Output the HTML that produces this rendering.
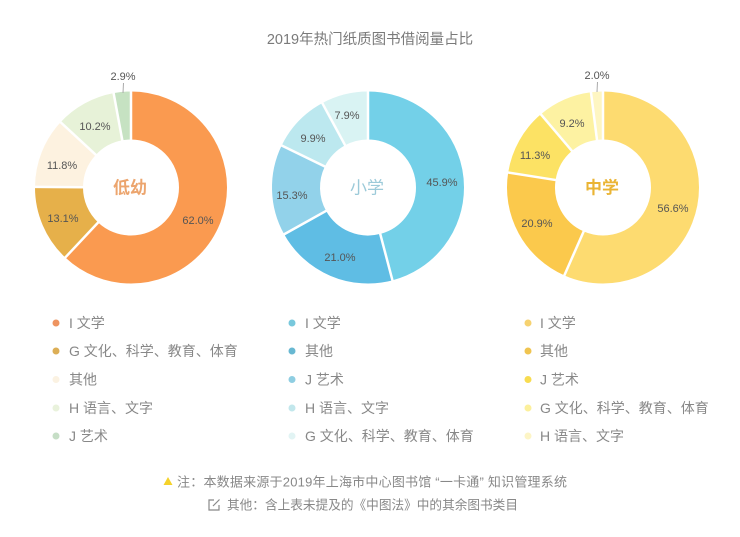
<!DOCTYPE html>
<html>
<head>
<meta charset="utf-8">
<style>
html,body{margin:0;padding:0;background:#fff;}
svg{display:block;}
text{font-family:"Liberation Sans","Noto Sans CJK SC",sans-serif;}
</style>
</head>
<body>
<svg width="740" height="537" viewBox="0 0 740 537" xmlns="http://www.w3.org/2000/svg">
<rect width="740" height="537" fill="#fff"/>
<text x="370" y="44" text-anchor="middle" font-size="14.5" fill="#7a7a7a">2019年热门纸质图书借阅量占比</text>

<!-- Left donut -->
<g transform="translate(131,187.5)">
  <g fill="none" stroke-width="48">
    <circle r="72" stroke="#fa9a50" stroke-dasharray="280.48 452.39" transform="rotate(-90)"/>
    <circle r="72" stroke="#e6b04a" stroke-dasharray="59.26 452.39" transform="rotate(133.2)"/>
    <circle r="72" stroke="#fdf2e0" stroke-dasharray="53.38 452.39" transform="rotate(180.36)"/>
    <circle r="72" stroke="#e7f2d8" stroke-dasharray="46.14 452.39" transform="rotate(222.84)"/>
    <circle r="72" stroke="#c6e2c2" stroke-dasharray="13.12 452.39" transform="rotate(259.56)"/>
  </g>
  <g stroke="#fff" stroke-width="2.5">
    <line x1="0" y1="-46" x2="0" y2="-98" transform="rotate(0)"/>
    <line x1="0" y1="-46" x2="0" y2="-98" transform="rotate(223.2)"/>
    <line x1="0" y1="-46" x2="0" y2="-98" transform="rotate(270.36)"/>
    <line x1="0" y1="-46" x2="0" y2="-98" transform="rotate(312.84)"/>
    <line x1="0" y1="-46" x2="0" y2="-98" transform="rotate(349.56)"/>
  </g>
  <text x="-1" y="6" text-anchor="middle" font-size="17" font-weight="bold" fill="#eca56e">低幼</text>
</g>
<g font-size="11" fill="#555" text-anchor="middle">
  <text x="198" y="224">62.0%</text>
  <text x="63" y="222">13.1%</text>
  <text x="62" y="169">11.8%</text>
  <text x="95" y="130">10.2%</text>
  <text x="123" y="80">2.9%</text>
</g>
<line x1="123.5" y1="83" x2="123" y2="93" stroke="#aaa" stroke-width="1"/>

<!-- Middle donut -->
<g transform="translate(368,187.5)">
  <g fill="none" stroke-width="48">
    <circle r="72" stroke="#73d0e8" stroke-dasharray="207.65 452.39" transform="rotate(-90)"/>
    <circle r="72" stroke="#5fbde4" stroke-dasharray="95.00 452.39" transform="rotate(75.24)"/>
    <circle r="72" stroke="#92d2ea" stroke-dasharray="69.22 452.39" transform="rotate(150.84)"/>
    <circle r="72" stroke="#bce8ef" stroke-dasharray="44.79 452.39" transform="rotate(205.92)"/>
    <circle r="72" stroke="#d9f3f3" stroke-dasharray="35.74 452.39" transform="rotate(241.56)"/>
  </g>
  <g stroke="#fff" stroke-width="2.5">
    <line x1="0" y1="-46" x2="0" y2="-98" transform="rotate(0)"/>
    <line x1="0" y1="-46" x2="0" y2="-98" transform="rotate(165.24)"/>
    <line x1="0" y1="-46" x2="0" y2="-98" transform="rotate(240.84)"/>
    <line x1="0" y1="-46" x2="0" y2="-98" transform="rotate(295.92)"/>
    <line x1="0" y1="-46" x2="0" y2="-98" transform="rotate(331.56)"/>
  </g>
  <text x="-1" y="6" text-anchor="middle" font-size="17" fill="#9ccad9">小学</text>
</g>
<g font-size="11" fill="#555" text-anchor="middle">
  <text x="442" y="186">45.9%</text>
  <text x="340" y="261">21.0%</text>
  <text x="292" y="199">15.3%</text>
  <text x="313" y="142">9.9%</text>
  <text x="347" y="119">7.9%</text>
</g>

<!-- Right donut -->
<g transform="translate(603,187.5)">
  <g fill="none" stroke-width="48">
    <circle r="72" stroke="#fddb70" stroke-dasharray="256.05 452.39" transform="rotate(-90)"/>
    <circle r="72" stroke="#fbc94c" stroke-dasharray="94.55 452.39" transform="rotate(113.76)"/>
    <circle r="72" stroke="#fce264" stroke-dasharray="51.12 452.39" transform="rotate(189.0)"/>
    <circle r="72" stroke="#fdf2a2" stroke-dasharray="41.62 452.39" transform="rotate(229.68)"/>
    <circle r="72" stroke="#fef6c2" stroke-dasharray="9.05 452.39" transform="rotate(262.8)"/>
  </g>
  <g stroke="#fff" stroke-width="2.5">
    <line x1="0" y1="-46" x2="0" y2="-98" transform="rotate(0)"/>
    <line x1="0" y1="-46" x2="0" y2="-98" transform="rotate(203.76)"/>
    <line x1="0" y1="-46" x2="0" y2="-98" transform="rotate(279.0)"/>
    <line x1="0" y1="-46" x2="0" y2="-98" transform="rotate(319.68)"/>
    <line x1="0" y1="-46" x2="0" y2="-98" transform="rotate(352.8)"/>
  </g>
  <text x="-1" y="6" text-anchor="middle" font-size="17" font-weight="bold" fill="#eab434">中学</text>
</g>
<g font-size="11" fill="#555" text-anchor="middle">
  <text x="673" y="212">56.6%</text>
  <text x="537" y="227">20.9%</text>
  <text x="535" y="159">11.3%</text>
  <text x="572" y="127">9.2%</text>
  <text x="597" y="79">2.0%</text>
</g>
<line x1="597.5" y1="82" x2="597" y2="92" stroke="#aaa" stroke-width="1"/>

<!-- Legends -->
<g font-size="14" fill="#888">
  <circle cx="56" cy="323" r="3.5" fill="#ee9460"/>
  <text x="69" y="328">I 文学</text>
  <circle cx="56" cy="351" r="3.5" fill="#dcae56"/>
  <text x="69" y="356">G 文化、科学、教育、体育</text>
  <circle cx="56" cy="379.5" r="3.5" fill="#fbf2e2"/>
  <text x="69" y="384.5">其他</text>
  <circle cx="56" cy="408" r="3.5" fill="#e9f2dc"/>
  <text x="69" y="413">H 语言、文字</text>
  <circle cx="56" cy="436" r="3.5" fill="#c6dec6"/>
  <text x="69" y="441">J 艺术</text>

  <circle cx="292" cy="323" r="3.5" fill="#78c8dc"/>
  <text x="305" y="328">I 文学</text>
  <circle cx="292" cy="351" r="3.5" fill="#68b8d2"/>
  <text x="305" y="356">其他</text>
  <circle cx="292" cy="379.5" r="3.5" fill="#8fcee2"/>
  <text x="305" y="384.5">J 艺术</text>
  <circle cx="292" cy="408" r="3.5" fill="#c2e7ec"/>
  <text x="305" y="413">H 语言、文字</text>
  <circle cx="292" cy="436" r="3.5" fill="#e2f4f4"/>
  <text x="305" y="441">G 文化、科学、教育、体育</text>

  <circle cx="528" cy="323" r="3.5" fill="#f6d270"/>
  <text x="540" y="328">I 文学</text>
  <circle cx="528" cy="351" r="3.5" fill="#f0c450"/>
  <text x="540" y="356">其他</text>
  <circle cx="528" cy="379.5" r="3.5" fill="#f8dc50"/>
  <text x="540" y="384.5">J 艺术</text>
  <circle cx="528" cy="408" r="3.5" fill="#fcf09c"/>
  <text x="540" y="413">G 文化、科学、教育、体育</text>
  <circle cx="528" cy="436" r="3.5" fill="#fdf5c6"/>
  <text x="540" y="441">H 语言、文字</text>
</g>

<!-- Footnotes -->
<polygon points="168,477 172.5,485 163.5,485" fill="#f5d22a"/>
<text x="177" y="486.5" font-size="13" fill="#888" textLength="390" lengthAdjust="spacing">注：本数据来源于2019年上海市中心图书馆 “一卡通” 知识管理系统</text>
<g stroke="#888" stroke-width="1.2" fill="none">
  <path d="M214 500 H209 V510 H219 V505"/>
  <line x1="213" y1="506" x2="219.5" y2="499.5"/>
</g>
<text x="227" y="509.5" font-size="13" fill="#888" textLength="291" lengthAdjust="spacingAndGlyphs">其他：含上表未提及的《中图法》中的其余图书类目</text>
</svg>
</body>
</html>
